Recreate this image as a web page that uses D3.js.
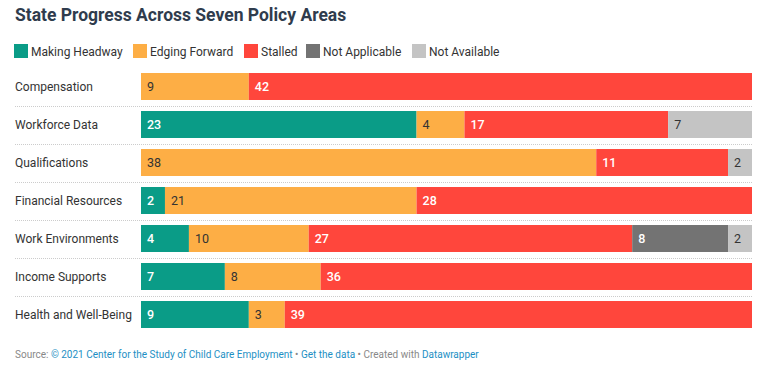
<!DOCTYPE html>
<html>
<head>
<meta charset="utf-8">
<script src="https://cdn.jsdelivr.net/npm/d3@7"></script>
<style>
  body { margin: 0; background: #fff; font-family: Roboto, "Noto Sans", sans-serif; }
  svg text { font-family: Roboto, "Noto Sans", sans-serif; }
</style>
</head>
<body>
<svg id="chart" width="772" height="369"></svg>
<script>
// data
const categories = ["Compensation", "Workforce Data", "Qualifications", "Financial Resources",
                    "Work Environments", "Income Supports", "Health and Well-Being"];
const seriesNames = ["Making Headway", "Edging Forward", "Stalled", "Not Applicable", "Not Available"];
const makingHeadway = [0, 23, 0, 2, 4, 7, 9];
const edgingForward = [9, 4, 38, 21, 10, 8, 3];
const stalled       = [42, 17, 11, 28, 27, 36, 39];
const notApplicable = [0, 0, 0, 0, 8, 0, 0];
const notAvailable  = [0, 7, 2, 0, 2, 0, 0];
const colors = ["#0a9c87", "#fdae45", "#ff463c", "#737373", "#c4c4c4"];
const labelColors = ["#fff", "#333", "#fff", "#fff", "#333"];

const seriesValues = [makingHeadway, edgingForward, stalled, notApplicable, notAvailable];
const rows = categories.map((c, i) => {
  const r = {category: c};
  seriesNames.forEach((s, j) => r[s] = seriesValues[j][i]);
  return r;
});

const svg = d3.select("#chart");

// title
svg.append("text")
  .attr("x", 15).attr("y", 21)
  .attr("font-size", 17.5).attr("font-weight", 700)
  .attr("fill", "#2f3c4d")
  .text("State Progress Across Seven Policy Areas");

// legend
const legendX = [14, 133, 244, 306, 412];
const legend = svg.append("g");
seriesNames.forEach((s, i) => {
  const g = legend.append("g").attr("transform", `translate(${legendX[i]},44)`);
  g.append("rect").attr("width", 14).attr("height", 14).attr("fill", colors[i]);
  g.append("text").attr("x", 17).attr("y", 11.5)
    .attr("font-size", 12).attr("fill", "#333").text(s);
});

// scales
const x = d3.scaleLinear().domain([0, 51]).range([141, 752]);
const y = d3.scaleBand().domain(categories).range([67.5, 333.5]).paddingInner(0.29).paddingOuter(0.145);
const gap = y.step() * y.paddingInner();

const stack = d3.stack().keys(seriesNames)(rows);

// dotted separators
svg.append("g").selectAll("line")
  .data(categories.slice(1))
  .join("line")
  .attr("x1", 15).attr("x2", 752)
  .attr("y1", d => Math.round(y(d) - gap / 2) + 0.5)
  .attr("y2", d => Math.round(y(d) - gap / 2) + 0.5)
  .attr("stroke", "#ccc").attr("stroke-dasharray", "1,1");

// category labels
svg.append("g").selectAll("text")
  .data(categories)
  .join("text")
  .attr("x", 15)
  .attr("y", d => y(d) + y.bandwidth() / 2 + 4)
  .attr("font-size", 12).attr("fill", "#333")
  .text(d => d);

// bars
const layers = svg.append("g").selectAll("g")
  .data(stack)
  .join("g")
  .attr("fill", (d, i) => colors[i]);

layers.selectAll("rect")
  .data(d => d.filter(p => p[1] > p[0]))
  .join("rect")
  .attr("x", d => x(d[0]))
  .attr("y", d => y(d.data.category))
  .attr("width", d => x(d[1]) - x(d[0]))
  .attr("height", y.bandwidth());

// value labels
stack.forEach((layer, i) => {
  svg.append("g").selectAll("text")
    .data(layer.filter(p => p[1] > p[0]))
    .join("text")
    .attr("x", d => x(d[0]) + 6)
    .attr("y", d => y(d.data.category) + y.bandwidth() / 2 + 4.5)
    .attr("font-size", 12.5)
    .attr("font-weight", labelColors[i] === "#fff" ? 500 : 400)
    .attr("fill", labelColors[i])
    .text(d => d[1] - d[0]);
});

// footer
const foot = svg.append("text").attr("x", 15).attr("y", 357.5).attr("font-size", 10);
const parts = [["Source: ", "#888"], ["© 2021 Center for the Study of Child Care Employment", "#1d8fc4"],
               [" • ", "#888"], ["Get the data", "#1d8fc4"], [" • Created with ", "#888"], ["Datawrapper", "#1d8fc4"]];
parts.forEach(p => foot.append("tspan").attr("fill", p[1]).text(p[0]));
</script>
</body>
</html>
